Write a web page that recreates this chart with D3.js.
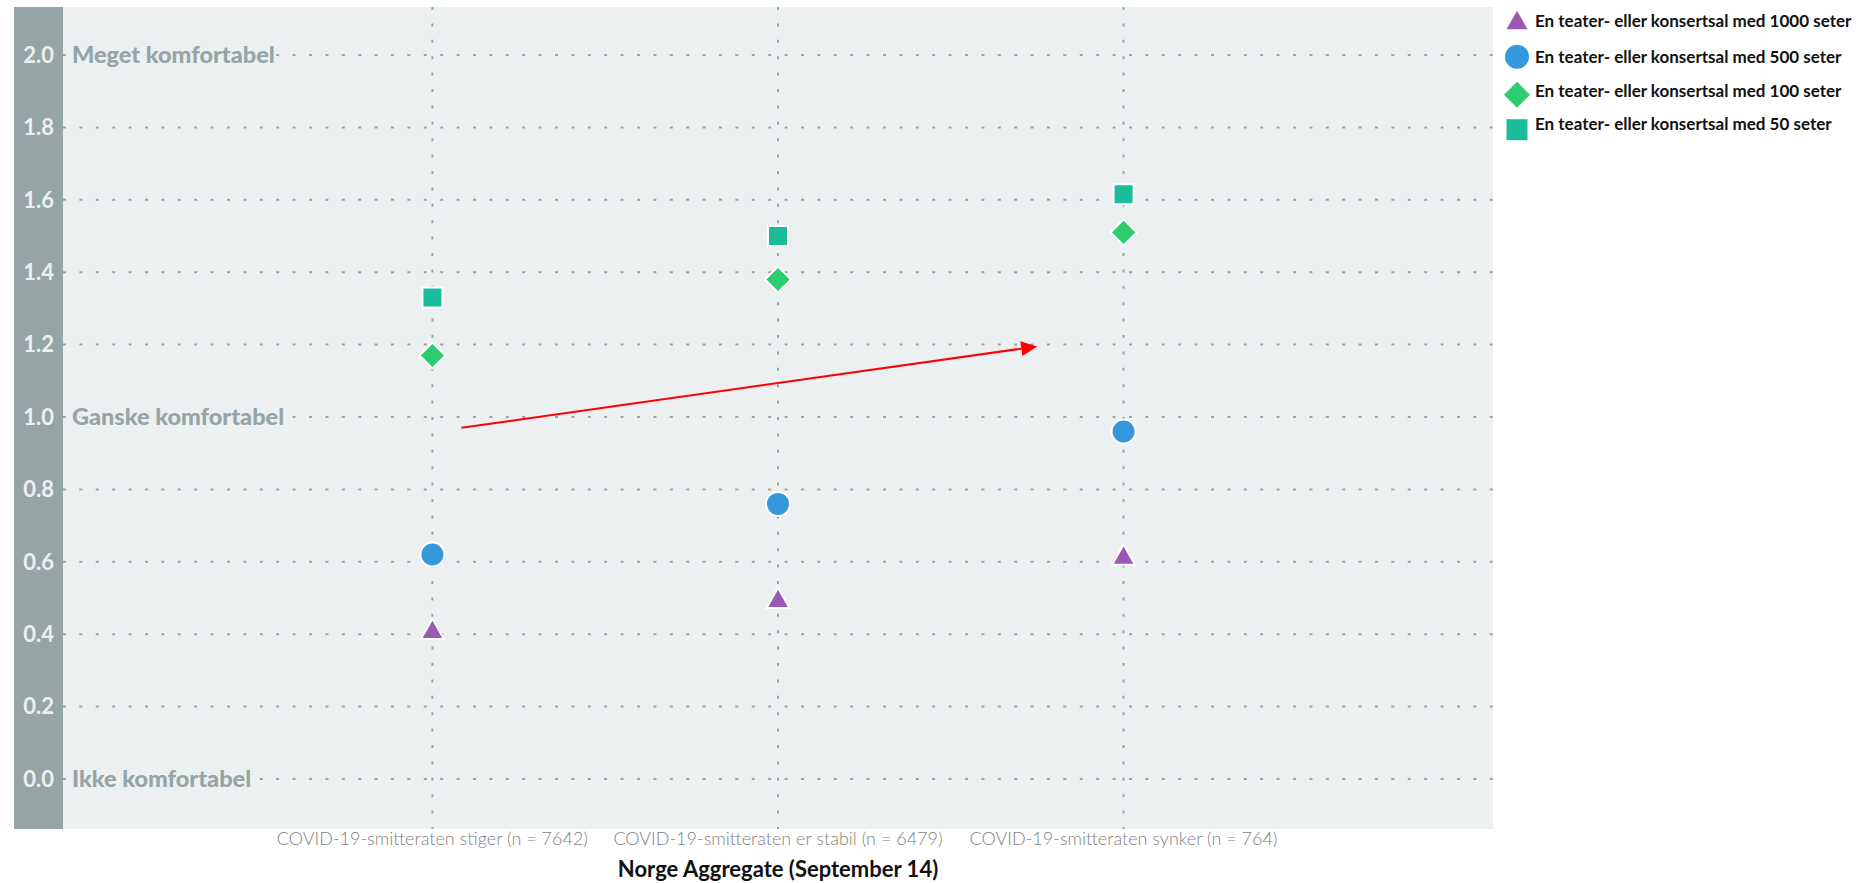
<!DOCTYPE html>
<html>
<head>
<meta charset="utf-8">
<script src="https://cdn.jsdelivr.net/npm/d3@7"></script>
<style>
  html, body { margin: 0; padding: 0; background: #ffffff; }
  svg { display: block; }
</style>
</head>
<body>
<svg id="chart" width="1870" height="883"></svg>
<script>
// ---------------- data ----------------
const categories = [
  "COVID-19-smitteraten stiger (n = 7642)",
  "COVID-19-smitteraten er stabil (n = 6479)",
  "COVID-19-smitteraten synker (n = 764)"
];
const seriesNames = [
  "En teater- eller konsertsal med 1000 seter",
  "En teater- eller konsertsal med 500 seter",
  "En teater- eller konsertsal med 100 seter",
  "En teater- eller konsertsal med 50 seter"
];
const seats1000 = [0.415, 0.50, 0.62];
const seats500  = [0.62, 0.76, 0.96];
const seats100  = [1.17, 1.38, 1.51];
const seats50   = [1.33, 1.50, 1.615];
const yTicks = [0.0, 0.2, 0.4, 0.6, 0.8, 1.0, 1.2, 1.4, 1.6, 1.8, 2.0];
const levelValues = [0, 1, 2];
const levelLabels = ["Ikke komfortabel", "Ganske komfortabel", "Meget komfortabel"];
const xTitle = "Norge Aggregate (September 14)";
// arrow annotation: [category index position, value]
const arrowFrom = [0.084, 0.97];
const arrowTo   = [1.75, 1.195];

// ---------------- layout ----------------
const band = { x0: 14, x1: 63 };
const plot = { left: 63, right: 1493, top: 7, bottom: 829 };
const colors = ["#9b59b6", "#3498db", "#2ecc71", "#1abc9c"];
const shapes = ["triangle", "circle", "diamond", "square"];
const seriesValues = [seats1000, seats500, seats100, seats50];

const svg = d3.select("#chart");

const x = d3.scalePoint().domain(categories).range([plot.left, plot.right]).padding(1.069);
const y = d3.scaleLinear().domain([0, 2]).range([779, 55]);
const xIdx = d3.scaleLinear().domain([0, categories.length - 1])
  .range([x(categories[0]), x(categories[categories.length - 1])]);

// backgrounds
svg.append("rect").attr("x", band.x0).attr("y", plot.top)
  .attr("width", band.x1 - band.x0).attr("height", plot.bottom - plot.top)
  .attr("fill", "#95a5a6");
svg.append("rect").attr("x", plot.left).attr("y", plot.top)
  .attr("width", plot.right - plot.left).attr("height", plot.bottom - plot.top)
  .attr("fill", "#ecf0f1");

// horizontal grid
const gridColor = "#95a5a6";
svg.append("g").selectAll("line").data(yTicks).join("line")
  .attr("x1", plot.left).attr("x2", plot.right)
  .attr("y1", d => y(d)).attr("y2", d => y(d))
  .attr("stroke", gridColor).attr("stroke-width", 2)
  .attr("stroke-dasharray", "3,13.4");

// vertical grid
svg.append("g").selectAll("line").data(categories).join("line")
  .attr("x1", d => x(d)).attr("x2", d => x(d))
  .attr("y1", plot.top).attr("y2", plot.bottom)
  .attr("stroke", gridColor).attr("stroke-width", 2)
  .attr("stroke-dasharray", "3,13.4");

// y tick labels inside the band
svg.append("g").selectAll("text").data(yTicks).join("text")
  .attr("x", 54).attr("y", d => y(d))
  .attr("dy", "0.35em")
  .attr("text-anchor", "end")
  .attr("font-family", "Lato, 'Open Sans', sans-serif")
  .attr("font-weight", 700)
  .attr("font-size", 22)
  .attr("fill", "#ecf0f1")
  .text(d => d.toFixed(1));

// level labels
svg.append("g").selectAll("text").data(levelValues).join("text")
  .attr("x", 72).attr("y", d => y(d))
  .attr("dy", "0.35em")
  .attr("font-family", "Lato, 'Open Sans', sans-serif")
  .attr("font-weight", 900)
  .attr("font-size", 23.5)
  .attr("fill", "#95a5a6")
  .attr("stroke", "#ecf0f1").attr("stroke-width", 4)
  .attr("paint-order", "stroke")
  .text((d, i) => levelLabels[i]);

// arrow annotation
(function () {
  const x1 = xIdx(arrowFrom[0]), y1 = y(arrowFrom[1]);
  const x2 = xIdx(arrowTo[0]), y2 = y(arrowTo[1]);
  const ang = Math.atan2(y2 - y1, x2 - x1);
  const hl = 16, hw = 7.5;
  const bx = x2 - hl * Math.cos(ang), by = y2 - hl * Math.sin(ang);
  svg.append("line").attr("x1", x1).attr("y1", y1).attr("x2", bx).attr("y2", by)
    .attr("stroke", "#ff0000").attr("stroke-width", 2);
  const px = -Math.sin(ang), py = Math.cos(ang);
  svg.append("path")
    .attr("d", `M${x2},${y2}L${bx + px * hw},${by + py * hw}L${bx - px * hw},${by - py * hw}Z`)
    .attr("fill", "#ff0000");
})();

// symbol paths
function symbolPath(shape, size) {
  if (shape === "circle") return d3.symbol(d3.symbolCircle, Math.PI * size * size / 4)();
  if (shape === "square") {
    const h = size / 2; return `M${-h},${-h}H${h}V${h}H${-h}Z`;
  }
  if (shape === "diamond") {
    const h = size / 2; return `M0,${-h}L${h},0L0,${h}L${-h},0Z`;
  }
  if (shape === "triangle") {
    const w = size / 2, h = size * 0.44;
    return `M0,${-h}L${w},${h}L${-w},${h}Z`;
  }
}
const markerSize = { triangle: 23, circle: 24, diamond: 26, square: 20 };

// points
seriesValues.forEach((vals, si) => {
  svg.append("g").selectAll("path").data(vals).join("path")
    .attr("transform", (d, i) => `translate(${x(categories[i])},${y(d)})`)
    .attr("d", symbolPath(shapes[si], markerSize[shapes[si]]))
    .attr("fill", colors[si])
    .attr("stroke", "#ffffff").attr("stroke-width", 2);
});

// category labels
svg.append("g").selectAll("text").data(categories).join("text")
  .attr("x", d => x(d)).attr("y", 845)
  .attr("text-anchor", "middle")
  .attr("font-family", "Lato, 'Open Sans', sans-serif")
  .attr("font-weight", 300)
  .attr("font-size", 18)
  .attr("fill", "#7f7f7f")
  .text(d => d);

// x title
svg.append("text")
  .attr("x", (plot.left + plot.right) / 2).attr("y", 877)
  .attr("text-anchor", "middle")
  .attr("font-family", "Lato, 'Open Sans', sans-serif")
  .attr("font-weight", 700)
  .attr("font-size", 22)
  .attr("fill", "#111111")
  .text(xTitle);

// legend
const legendY = [20, 56.7, 94.7, 129.7];
const legendTextY = [21, 57, 91, 124.5];
const legendSize = { triangle: 21, circle: 24, diamond: 26, square: 21 };
const lg = svg.append("g");
seriesNames.forEach((name, i) => {
  lg.append("path")
    .attr("transform", `translate(1517,${legendY[i]})`)
    .attr("d", symbolPath(shapes[i], legendSize[shapes[i]]))
    .attr("fill", colors[i]);
  lg.append("text")
    .attr("x", 1535).attr("y", legendTextY[i]).attr("dy", "0.35em")
    .attr("font-family", "Lato, 'Open Sans', sans-serif")
    .attr("font-weight", 700)
    .attr("font-size", 17)
    .attr("fill", "#111111")
    .text(name);
});
</script>
</body>
</html>
